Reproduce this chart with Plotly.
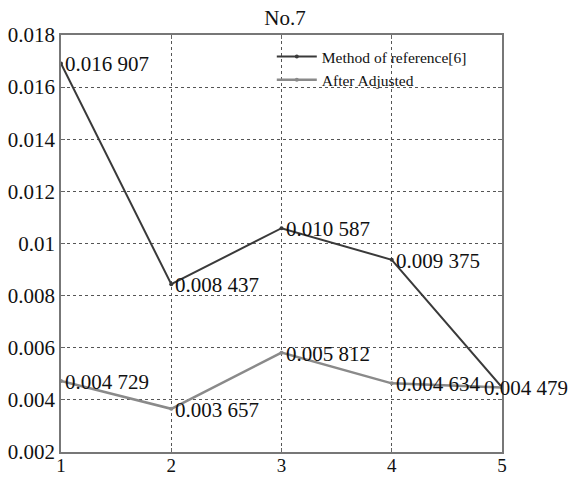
import plotly.graph_objects as go

x_vals = [1, 2, 3, 4, 5]
ref_method = [0.016907, 0.008437, 0.010587, 0.009375, 0.004479]
after_adjusted = [0.004729, 0.003657, 0.005812, 0.004634, 0.004479]
ref_labels = ["0.016 907", "0.008 437", "0.010 587", "0.009 375", "0.004 479"]
adj_labels = ["0.004 729", "0.003 657", "0.005 812", "0.004 634", ""]
y_ticks = [0.002, 0.004, 0.006, 0.008, 0.010, 0.012, 0.014, 0.016, 0.018]
y_ticktext = ["0.002", "0.004", "0.006", "0.008", "0.01", "0.012", "0.014", "0.016", "0.018"]
x_ticks = [1, 2, 3, 4, 5]

font_family = "Liberation Serif"

fig = go.Figure()
fig.add_trace(go.Scatter(
    x=x_vals, y=ref_method, mode="lines+markers", name="Method of reference[6]",
    line=dict(color="#3a3a3a", width=2), marker=dict(size=4, color="#3a3a3a"),
    cliponaxis=False))
fig.add_trace(go.Scatter(
    x=x_vals, y=after_adjusted, mode="lines+markers", name="After Adjusted",
    line=dict(color="#8a8a8a", width=2.5), marker=dict(size=4, color="#8a8a8a"),
    cliponaxis=False))

annotations = []
for xs, ys, labels in [(x_vals, ref_method, ref_labels), (x_vals, after_adjusted, adj_labels)]:
    for i, (xv, yv, lab) in enumerate(zip(xs, ys, labels)):
        if not lab:
            continue
        last = i == len(xs) - 1
        annotations.append(dict(
            x=xv, y=yv, xref="x", yref="y", text=lab, showarrow=False,
            xanchor="left", yanchor="middle", xshift=-20 if last else 2, yshift=-1,
            font=dict(family=font_family, size=21, color="#111")))

fig.update_layout(
    width=570, height=477,
    margin=dict(l=61, r=68, t=35, b=25),
    paper_bgcolor="white", plot_bgcolor="white",
    font=dict(family=font_family, size=21, color="#111"),
    title=dict(text="No.7", x=0.5, xanchor="center", y=0.962, yanchor="middle",
               font=dict(family=font_family, size=21, color="#111")),
    legend=dict(x=0.478, y=0.988, xanchor="left", yanchor="top", itemwidth=40,
                bgcolor="rgba(0,0,0,0)", font=dict(family=font_family, size=15.5, color="#111"),
                tracegroupgap=0),
    showlegend=True,
    annotations=annotations,
)
fig.update_xaxes(range=[1, 5], tickvals=x_ticks, ticks="inside", ticklen=4,
                 tickcolor="#666", showline=True, linecolor="#777", linewidth=1.5,
                 mirror="ticks", showgrid=True, gridcolor="#555", griddash="dot",
                 gridwidth=1, zeroline=False, tickfont=dict(size=19), automargin=False,
                 ticklabelstandoff=-5)
fig.update_yaxes(range=[0.002, 0.018], tickvals=y_ticks, ticktext=y_ticktext,
                 ticks="inside", ticklen=4, tickcolor="#666", showline=True,
                 linecolor="#777", linewidth=1.5, mirror="ticks", showgrid=True,
                 gridcolor="#555", griddash="dot", gridwidth=1, zeroline=False,
                 tickfont=dict(size=21), automargin=False)

fig.write_html("out.html", config={"displayModeBar": False},
               post_script="document.body.style.margin='0';")
